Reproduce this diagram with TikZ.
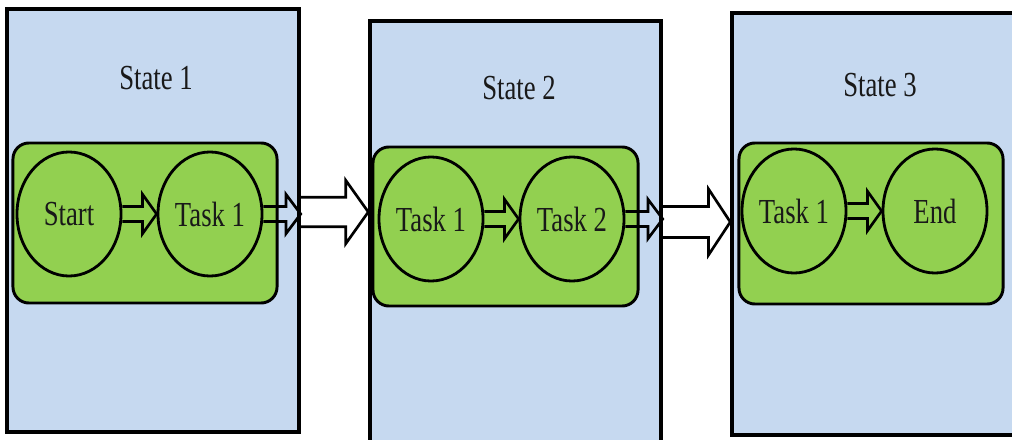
\documentclass[tikz,border=0pt]{standalone}
\usepackage{fontspec}
\setmainfont{Liberation Serif}[FakeStretch=0.76]
\usetikzlibrary{shapes.geometric,calc}

\definecolor{stateblue}{RGB}{198,217,240}
\definecolor{taskgreen}{RGB}{146,208,80}

% hollow block arrow: from, to, shaft half width, head half width, head length
\newcommand{\blockarrow}[5]{%
  \draw[hollow] let \p1=(#1), \p2=(#2) in
    (\x1,\y1+#3) -- (\x2-#5,\y1+#3) -- (\x2-#5,\y1+#4) -- (\x2,\y1)
    -- (\x2-#5,\y1-#4) -- (\x2-#5,\y1-#3) -- (\x1,\y1-#3);}

\begin{document}
\begin{tikzpicture}[x=0.025cm, y=-0.025cm,
    statebox/.style={draw, line width=2.4pt, fill=stateblue, minimum width=7.3cm, minimum height=10.575cm},
    groupbox/.style={draw, line width=2.1pt, fill=taskgreen, rounded corners=0.4cm, minimum width=6.6cm, minimum height=4cm},
    task/.style={draw, ellipse, line width=2pt, minimum width=2.6cm, minimum height=3.1cm, inner sep=0pt},
    hollow/.style={draw, line width=1.9pt, line join=miter},
    every node/.style={font=\fontsize{25}{30}\selectfont, text=black!90}]

    \clip (0,0) rectangle (1012,440);

    % --- States ---
    \node[statebox] (st1) at (153,220.5) {};
    \node[statebox, minimum width=7.275cm, minimum height=10.625cm] (st2) at (515.5,233.5) {};
    \node[statebox, minimum width=7.1cm, minimum height=10.55cm] (st3) at (874,224) {};

    \node (lb1) at (156,78) {State 1};
    \node (lb2) at (519,88) {State 2};
    \node (lb3) at (880,85) {State 3};

    % --- Big arrows between states ---
    \blockarrow{st1.east |- 0,212}{st2.west}{10.5pt}{22.5pt}{16pt}
    \blockarrow{st2.east |- 0,222}{st3.west}{11pt}{23.5pt}{15.5pt}

    % --- Task groups ---
    \node[groupbox] (g1) at (145,223) {};
    \node[groupbox, minimum width=6.625cm, minimum height=3.975cm] (g2) at (505.5,226.5) {};
    \node[groupbox, minimum height=4.025cm] (g3) at (871,223.5) {};

    % State 1
    \node[task] (t11) at (69,214) {Start};
    \node[task] (t12) at (210,214) {Task 1};
    % State 2
    \node[task] (t21) at (431,219) {Task 1};
    \node[task] (t22) at (572,219) {Task 2};
    % State 3
    \node[task] (t31) at (794,211) {Task 1};
    \node[task] (t32) at (935,211) {End};

    % --- Small arrows ---
    \blockarrow{t11.east}{t12.west}{5.3pt}{14pt}{10pt}
    \blockarrow{t12.east}{t12 -| st1.east}{5.3pt}{14pt}{10.5pt}
    \blockarrow{t21.east}{t22.west}{5.3pt}{14pt}{10pt}
    \blockarrow{t22.east}{t22 -| st2.east}{5.3pt}{14pt}{10.5pt}
    \blockarrow{t31.east}{t32.west}{5.3pt}{14pt}{10pt}

\end{tikzpicture}
\end{document}
